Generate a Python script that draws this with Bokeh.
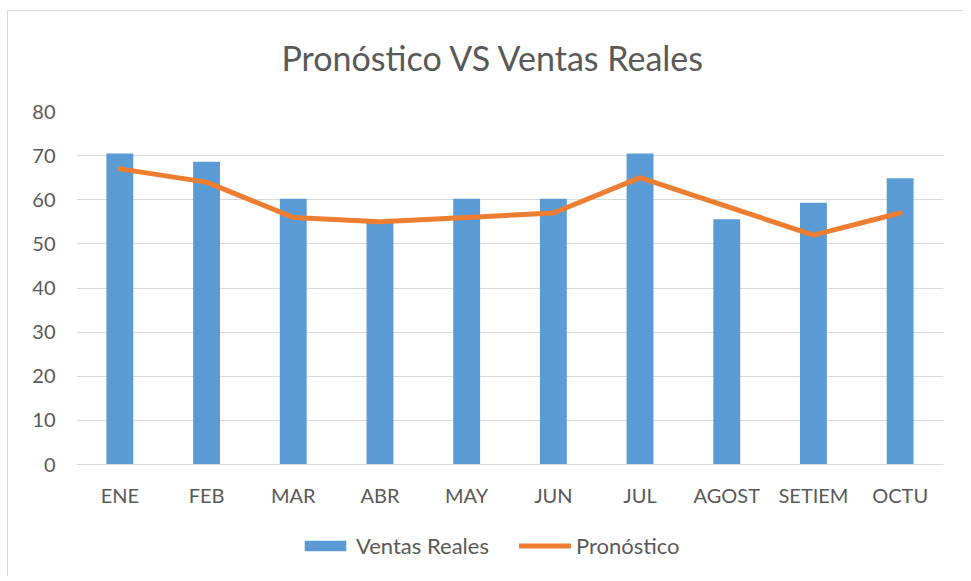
from bokeh.plotting import figure
from bokeh.models import (ColumnDataSource, Legend, LegendItem, FactorRange, FixedTicker,
                          Range1d, CategoricalAxis)
from bokeh.embed import file_html
from bokeh.resources import INLINE

months = ["ENE", "FEB", "MAR", "ABR", "MAY", "JUN", "JUL", "AGOST", "SETIEM", "OCTU"]
ventas_reales = [70.5, 68.6, 60.2, 55.2, 60.2, 60.2, 70.5, 55.6, 59.3, 64.9]
pronostico = [67, 64, 56, 55, 56, 57, 65, 58.5, 52, 57]
y_ticks = [0, 10, 20, 30, 40, 50, 60, 70, 80]

src = ColumnDataSource(dict(m=months, v=ventas_reales, p=pronostico))

FONT = "Lato"
GRAY = "#595959"

# frame extends below y=0 so that axis labels and legend live inside it
p = figure(x_range=FactorRange(*months, range_padding=0), y_range=Range1d(-25.38, 80),
           frame_width=867, frame_height=465, output_backend="svg", toolbar_location=None,
           x_axis_location=None,
           min_border_left=76, min_border_right=20, min_border_top=110, min_border_bottom=0)
p.outline_line_color = None
p.border_fill_alpha = 0
p.background_fill_alpha = 0
p.styles = {
    "background": "linear-gradient(#d9d9d9, #d9d9d9) 7px 10px / 1px 100% no-repeat, "
                  "linear-gradient(#d9d9d9, #d9d9d9) 7px 10px / 100% 1px no-repeat, #ffffff",
}

bars = p.vbar(x="m", top="v", bottom=0, width=0.31, source=src, color="#5B9BD5", line_color=None)
line = p.line(x="m", y="p", source=src, color="#ED7D31", line_width=5, line_cap="round", line_join="round")

p.title.text = "Pronóstico VS Ventas Reales"
p.title.align = "left"
p.title.offset = 205
p.title.text_font = FONT
p.title.text_font_size = "34px"
p.title.text_font_style = "normal"
p.title.text_color = GRAY
p.title.standoff = 68

p.yaxis.ticker = FixedTicker(ticks=y_ticks)
p.yaxis.axis_line_color = None
p.yaxis.major_tick_line_color = None
p.yaxis.minor_tick_line_color = None
p.yaxis.major_label_text_font = FONT
p.yaxis.major_label_text_font_size = "20px"
p.yaxis.major_label_text_color = GRAY
p.yaxis.major_label_standoff = 15

xaxis = CategoricalAxis(fixed_location=0)
xaxis.axis_line_color = "#d9d9d9"
xaxis.major_tick_line_color = None
xaxis.major_tick_out = 0
xaxis.major_tick_in = 0
xaxis.major_label_text_font = FONT
xaxis.major_label_text_font_size = "20px"
xaxis.major_label_text_color = GRAY
xaxis.major_label_standoff = 18
p.add_layout(xaxis, "below")

p.xgrid.grid_line_color = None
p.ygrid.ticker = FixedTicker(ticks=y_ticks)
p.ygrid.grid_line_color = "#d9d9d9"
p.ygrid.grid_line_width = 1

legend = Legend(items=[LegendItem(label="Ventas Reales", renderers=[bars]),
                       LegendItem(label="Pronóstico", renderers=[line])],
                orientation="horizontal", location=(223, 17),
                glyph_width=52, glyph_height=13, label_text_font=FONT,
                label_text_font_size="22px", label_text_color=GRAY,
                spacing=30, label_standoff=5, border_line_color=None,
                background_fill_alpha=0, margin=0, padding=0)
p.add_layout(legend)

open("out.html", "w").write(file_html(p, INLINE))
